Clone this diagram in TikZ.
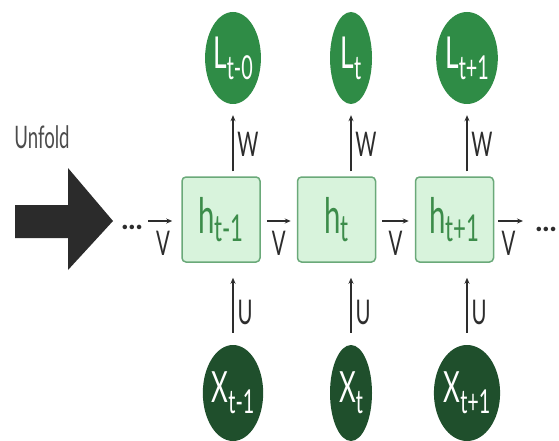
\documentclass[tikz,border=0pt]{standalone}
\usepackage{fontspec}
\usetikzlibrary{shapes.geometric,arrows.meta}
\newfontfamily\nf[FakeStretch=0.6]{Lato}
\newfontfamily\df{Lato}
\definecolor{topgreen}{HTML}{2F8C46}
\definecolor{botgreen}{HTML}{1F4F2C}
\definecolor{boxfill}{HTML}{D8F3DC}
\definecolor{boxline}{HTML}{6AA979}
\definecolor{boxtext}{HTML}{3C8C4A}
\definecolor{ink}{HTML}{2D2D2D}
\newcommand\symb[5]{{\fontsize{#2}{#2}\selectfont #1}\raisebox{-#5}{\fontsize{#4}{#4}\selectfont #3}}
\tikzset{
  topnode/.style={ellipse, fill=topgreen, text=white, minimum width=42pt, minimum height=92pt, inner sep=0pt, font=\nf},
  botnode/.style={ellipse, fill=botgreen, text=white, minimum width=42pt, minimum height=96pt, inner sep=0pt, font=\nf},
  hbox/.style={rectangle, rounded corners=4pt, fill=boxfill, draw=boxline, line width=1.5pt, text=boxtext, minimum width=78pt, minimum height=85pt, inner sep=0pt, font=\nf},
  arr/.style={draw=ink, line width=1.4pt, -{Stealth[length=6pt,width=5pt]}},
  wlab/.style={font=\nf\fontsize{34}{34}\selectfont, text=ink, inner sep=0pt},
  dots/.style={font=\df\bfseries\fontsize{30}{30}\selectfont, text=ink, inner sep=0pt}
}
\begin{document}
\begin{tikzpicture}[x=1pt,y=-1pt]
\useasboundingbox (0,0) rectangle (559,441);
% big unfold arrow
\fill[ink!95!black] (15,205) -- (68,205) -- (68,168) -- (113,221) -- (68,270) -- (68,238) -- (15,238) -- cycle;
\node[font=\nf\fontsize{31}{31}\selectfont, text=ink!85, inner sep=0pt] (unfold) at (42,137) {Unfold};
% hidden boxes
\node[hbox] (h1) at (221,219.5) {\symb{h}{49pt}{t-1}{37pt}{8pt}};
\node[hbox] (h2) at (336.5,219.5) {\symb{h}{49pt}{t}{37pt}{8pt}};
\node[hbox] (h3) at (454.5,219.5) {\symb{h}{49pt}{t+1}{37pt}{8pt}};
% outputs
\node[topnode] (L1) at (233,58) {\symb{L}{44pt}{t-0}{33pt}{11pt}};
\node[topnode] (L2) at (351,58) {\symb{L}{44pt}{t}{33pt}{11pt}};
\node[topnode] (L3) at (467,58) {\symb{L}{44pt}{t+1}{33pt}{11pt}};
% inputs
\node[botnode] (X1) at (233,393) {\symb{X}{43pt}{t-1}{33pt}{11pt}};
\node[botnode] (X2) at (351,393) {\symb{X}{43pt}{t}{33pt}{11pt}};
\node[botnode] (X3) at (467,393) {\symb{X}{43pt}{t+1}{33pt}{11pt}};
% dots and free ends
\node[dots] (d0) at (132,227) {...};
\node[dots] (d4) at (546,229) {...};
\coordinate (in0) at (148,221);
\coordinate (out4) at (523,221);
% V arrows
\draw[arr] (in0) -- (in0 -| h1.west) [shorten >=9pt] node[pos=0.45, yshift=-22pt, wlab] {V};
\draw[arr, shorten <=6pt, shorten >=6pt] (h1.east |- in0) -- (h2.west |- in0) node[midway, yshift=-22pt, wlab] {V};
\draw[arr, shorten <=6pt, shorten >=6pt] (h2.east |- in0) -- (h3.west |- in0) node[midway, yshift=-22pt, wlab] {V};
\draw[arr, shorten <=4pt] (h3.east |- in0) -- (out4) node[midway, yshift=-22pt, wlab] {V};
% W and U arrows
\foreach \i in {1,2,3}{
  \draw[arr, shorten <=5pt, shorten >=11pt] (h\i.north -| L\i.south) -- (L\i.south)
    node[pos=0.45, xshift=15pt, wlab] {W};
  \draw[arr, shorten <=12pt, shorten >=15pt] (X\i.north) -- (X\i.north |- h\i.south)
    node[pos=0.4, xshift=12pt, wlab] {U};
}
\end{tikzpicture}
\end{document}
